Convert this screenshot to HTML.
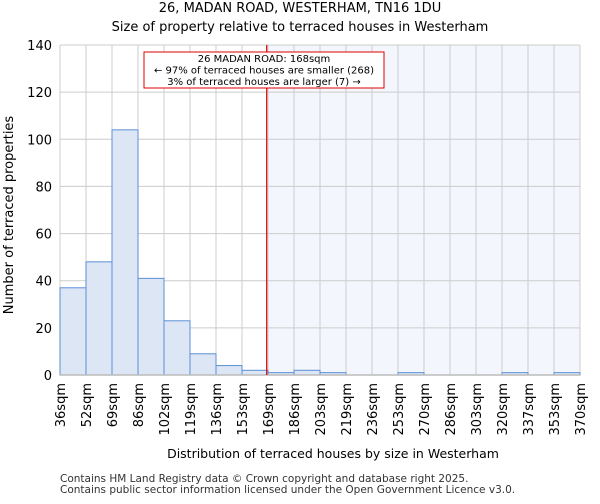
<!DOCTYPE html>
<html><head><meta charset="utf-8"><style>
body{margin:0;background:#fff;font-family:"DejaVu Sans","Liberation Sans",sans-serif;}
</style></head><body>
<svg width="600" height="500" xmlns="http://www.w3.org/2000/svg" font-family="DejaVu Sans, Liberation Sans, sans-serif">
<text x="300" y="12" text-anchor="middle" font-size="13">26, MADAN ROAD, WESTERHAM, TN16 1DU</text>
<text x="300" y="31" text-anchor="middle" font-size="13">Size of property relative to terraced houses in Westerham</text>
<g id="plot"></g>
<text x="333" y="458" text-anchor="middle" font-size="12.5">Distribution of terraced houses by size in Westerham</text>
<text transform="translate(13,215) rotate(-90)" text-anchor="middle" font-size="13">Number of terraced properties</text>
<text x="60" y="482" font-size="10.5" fill="#333">Contains HM Land Registry data © Crown copyright and database right 2025.</text>
<text x="60" y="493" font-size="10.5" fill="#333">Contains public sector information licensed under the Open Government Licence v3.0.</text>
</svg>
<script>
const categories=["36sqm","52sqm","69sqm","86sqm","102sqm","119sqm","136sqm","153sqm","169sqm","186sqm","203sqm","219sqm","236sqm","253sqm","270sqm","286sqm","303sqm","320sqm","337sqm","353sqm","370sqm"];
const values=[37,48,104,41,23,9,4,2,1,2,1,0,0,1,0,0,0,1,0,1];
const yTicks=[0,20,40,60,80,100,120,140];
const markerBin=7.95;
const NS="http://www.w3.org/2000/svg";
const L=60,R=580,T=45,B=375,yMax=140;
const n=values.length,bw=(R-L)/n;
const x=i=>L+i*bw, y=v=>B-(v/yMax)*(B-T);
const g=document.getElementById('plot');
function mk(t,a){const e=document.createElementNS(NS,t);for(const k in a)e.setAttribute(k,a[k]);g.appendChild(e);return e;}
const mx=x(markerBin);
let e=mk('rect',{x:x(8),y:T,width:R-x(8),height:B-T,fill:'#f3f6fd'});


for(let i=0;i<=n;i++){e=mk('line',{x1:x(i),x2:x(i),y1:T,y2:B,stroke:'#ccc'});

}
yTicks.forEach(t=>{e=mk('line',{x1:L,x2:R,y1:y(t),y2:y(t),stroke:'#ccc'});


e=mk('text',{x:L-8,y:y(t)+5,'text-anchor':'end','font-size':13});e.textContent=t;

});
values.forEach((v,i)=>{if(v<=0)return;e=mk('rect',{x:x(i),y:y(v),width:bw,height:B-y(v),fill:'#dce6f4',stroke:'#5b8fd6','stroke-width':1});

});
e=mk('line',{x1:L,x2:R,y1:B,y2:B,stroke:'#bbb','stroke-width':1.5});


categories.forEach((c,i)=>{e=mk('text',{transform:`translate(${x(i)+5},${B+8}) rotate(-90)`,'text-anchor':'end','font-size':13});e.textContent=c;

});
e=mk('line',{x1:mx,x2:mx,y1:T,y2:B,stroke:'#d00','stroke-width':1.2});


e=mk('rect',{x:144,y:52,width:240,height:36,fill:'#fff',stroke:'#d00'});


["26 MADAN ROAD: 168sqm","← 97% of terraced houses are smaller (268)","3% of terraced houses are larger (7) →"].forEach((s,k)=>{
e=mk('text',{x:264,y:62+k*11.5,'text-anchor':'middle','font-size':10});e.textContent=s;

});
</script>
</body></html>
